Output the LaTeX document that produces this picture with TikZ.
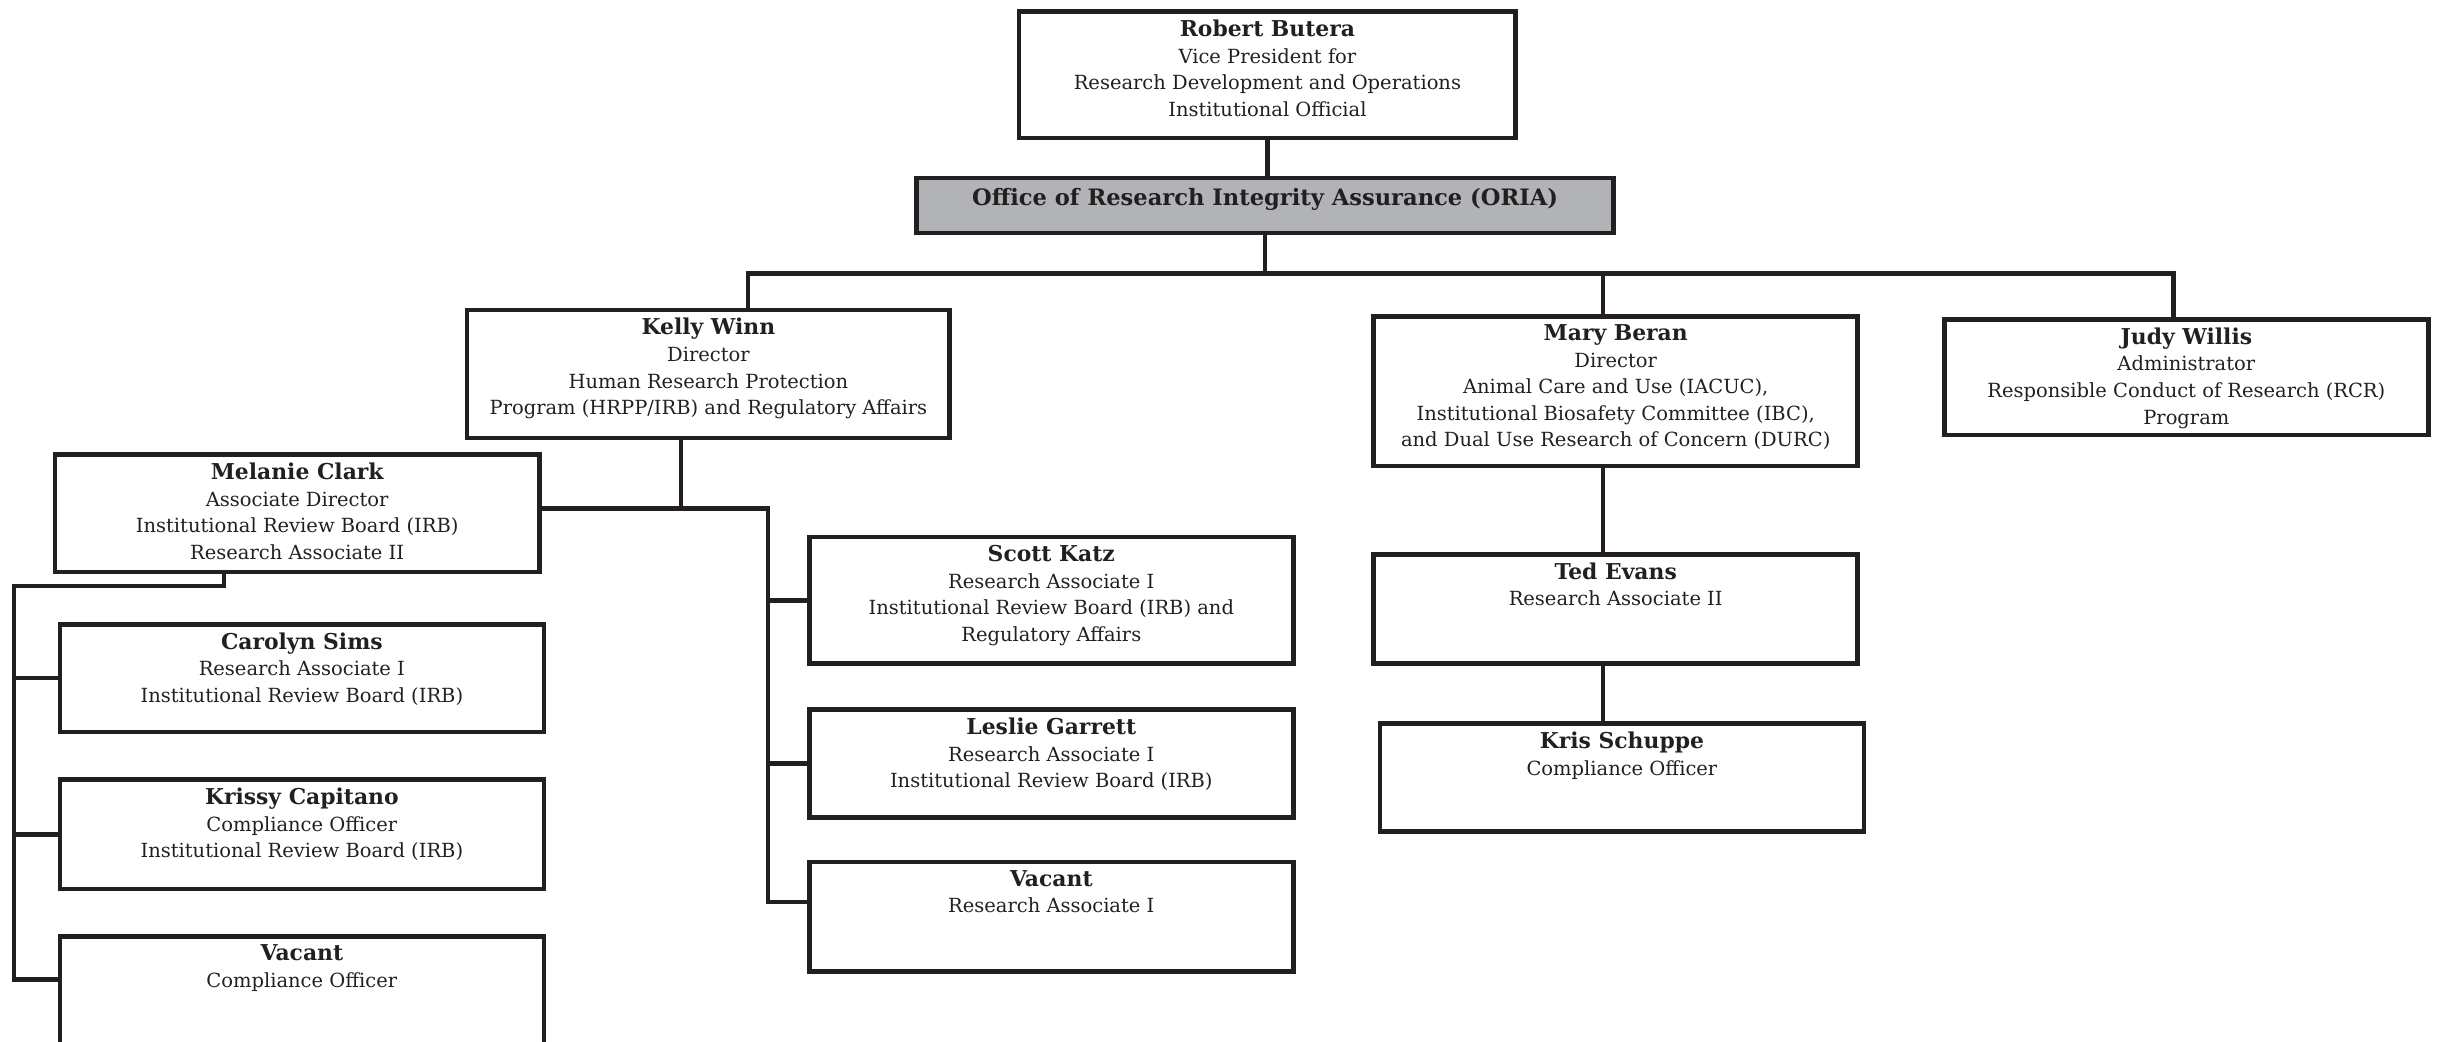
\documentclass[tikz,border=0pt]{standalone}
\usepackage{fontspec}
\setmainfont{DejaVu Serif}
\usetikzlibrary{positioning}

\definecolor{ink}{HTML}{231F20}
\definecolor{oriagray}{HTML}{B1B3B6}

\tikzset{
  card/.style 2 args={draw=ink, line width=2.5pt, inner sep=0pt, anchor=north west,
    font=\fontsize{10.7}{14.6}\selectfont, text=ink,
    execute at begin node={\begin{minipage}[c][#2][t]{#1}\centering\vspace*{4.5pt}},
    execute at end node={\end{minipage}}},
  link/.style={draw=ink, line width=2.5pt}
}

\begin{document}
\begin{tikzpicture}[x=0.03cm, y=-0.03cm]
\useasboundingbox (0,0) rectangle (1568,670);

% top of the chart
\node[card={9.58cm}{2.44cm}] (butera) at (654,6) {{\large\bfseries Robert Butera}\\ Vice President for\\ Research Development and Operations\\ Institutional Official};
\node[card={13.45cm}{1.06cm}, fill=oriagray] (oria) at (588,113) {\vspace*{1pt}{\fontsize{12.4}{14}\selectfont\bfseries Office of Research Integrity Assurance (ORIA)}};

% directors
\node[card={9.31cm}{2.47cm}] (winn) at (299,198) {{\large\bfseries Kelly Winn}\\ Director\\ Human Research Protection\\ Program (HRPP/IRB) and Regulatory Affairs};
\node[card={9.34cm}{2.89cm}] (beran) at (882,202) {{\large\bfseries Mary Beran}\\ Director\\ Animal Care and Use (IACUC),\\ Institutional Biosafety Committee (IBC),\\ and Dual Use Research of Concern (DURC)};
\node[card={9.34cm}{2.23cm}] (willis) at (1249,204) {{\large\bfseries Judy Willis}\\ Administrator\\ Responsible Conduct of Research (RCR)\\ Program};

% IRB staff
\node[card={9.34cm}{2.26cm}] (clark) at (34,291) {{\large\bfseries Melanie Clark}\\ Associate Director\\ Institutional Review Board (IRB)\\ Research Associate II};
\node[card={9.34cm}{2.08cm}] (sims) at (37,400) {{\large\bfseries Carolyn Sims}\\ Research Associate I\\ Institutional Review Board (IRB)};
\node[card={9.34cm}{2.11cm}] (capitano) at (37,500) {{\large\bfseries Krissy Capitano}\\ Compliance Officer\\ Institutional Review Board (IRB)};
\node[card={9.34cm}{2.6cm}] (vacantco) at (37,601) {{\large\bfseries Vacant}\\ Compliance Officer};

\node[card={9.34cm}{2.44cm}] (katz) at (519,344) {{\large\bfseries Scott Katz}\\ Research Associate I\\ Institutional Review Board (IRB) and\\ Regulatory Affairs};
\node[card={9.34cm}{2.08cm}] (garrett) at (519,455) {{\large\bfseries Leslie Garrett}\\ Research Associate I\\ Institutional Review Board (IRB)};
\node[card={9.34cm}{2.11cm}] (vacantra) at (519,553) {{\large\bfseries Vacant}\\ Research Associate I};

% animal care and biosafety
\node[card={9.34cm}{2.11cm}] (evans) at (882,355) {{\large\bfseries Ted Evans}\\ Research Associate II};
\node[card={9.34cm}{2.08cm}] (schuppe) at (886,464) {{\large\bfseries Kris Schuppe}\\ Compliance Officer};

% connectors
\coordinate (busL) at (481,176);
\coordinate (busM) at (1031,176);
\coordinate (busR) at (1398,176);
\draw[link] (butera.south) -- (butera.south |- oria.north);
\draw[link] (oria.south) -- (oria.south |- busL);
\draw[link] (busL |- winn.north) -- (busL) -- (busR) -- (busR |- willis.north);
\draw[link] (busM) -- (busM |- beran.north);
\draw[link] (busM |- beran.south) -- (busM |- evans.north);
\draw[link] (busM |- evans.south) -- (busM |- schuppe.north);

\coordinate (wj) at (438,327);
\coordinate (rbus) at (494,327);
\coordinate (rbusend) at (494,580);
\draw[link] (wj |- winn.south) -- (wj);
\draw[link] (clark.east |- wj) -- (rbus) -- (rbusend) -- (rbusend -| vacantra.west);
\draw[link] (rbus |- katz.west) -- (katz.west);
\draw[link] (rbus |- garrett.west) -- (garrett.west);

\coordinate (cj) at (144,377);
\coordinate (lbus) at (9,377);
\coordinate (lbusend) at (9,630);
\draw[link] (cj |- clark.south) -- (cj) -- (lbus) -- (lbusend) -- (lbusend -| vacantco.west);
\draw[link] (lbus |- sims.west) -- (sims.west);
\draw[link] (lbus |- capitano.west) -- (capitano.west);

\end{tikzpicture}
\end{document}
